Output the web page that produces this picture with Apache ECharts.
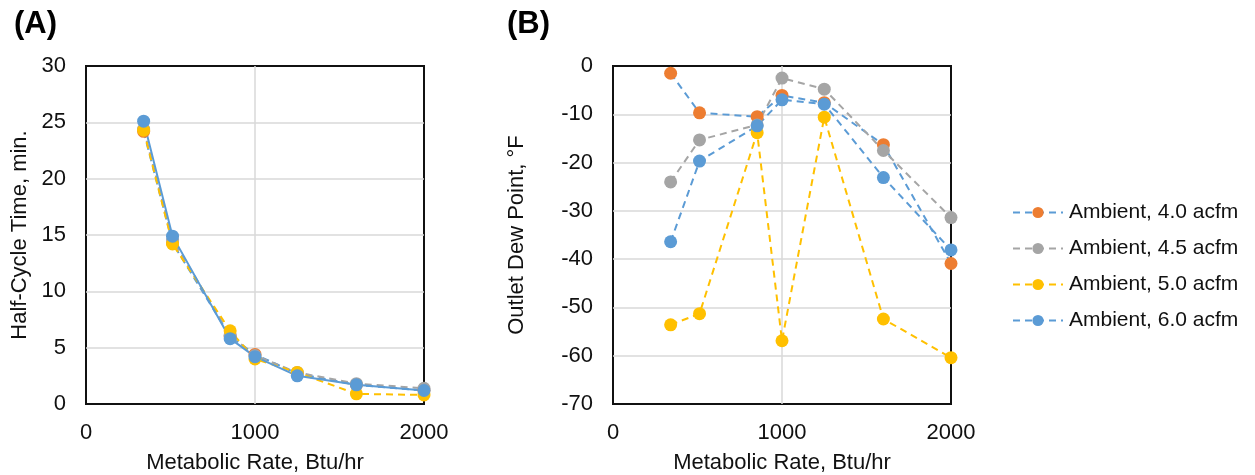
<!DOCTYPE html>
<html>
<head>
<meta charset="utf-8">
<script src="https://cdn.jsdelivr.net/npm/echarts@6/dist/echarts.min.js"></script>
<style>
  html, body { margin: 0; padding: 0; background: #fff; }
  #chart { width: 1255px; height: 475px; }
</style>
</head>
<body>
<div id="chart"></div>
<script>
// Metabolic rate, Btu/hr
const metabolicRate = [341, 512, 853, 1000, 1250, 1600, 2000];

const seriesNames = ['Ambient, 4.0 acfm', 'Ambient, 4.5 acfm', 'Ambient, 5.0 acfm', 'Ambient, 6.0 acfm'];

// (A) Half-cycle time, min.
const halfCycle40 = [24.2, 14.3, 6.0, 4.4, 2.7, 1.7, 1.2];
const halfCycle45 = [24.4, 14.6, 6.1, 4.3, 2.8, 1.8, 1.4];
const halfCycle50 = [24.3, 14.2, 6.5, 4.0, 2.8, 0.9, 0.8];
const halfCycle60 = [25.1, 14.9, 5.8, 4.2, 2.5, 1.7, 1.2];

// (B) Outlet dew point, °F
const dewPoint40 = [-1.5, -9.7, -10.5, -6.1, -7.6, -16.3, -40.9];
const dewPoint45 = [-24.0, -15.3, -12.2, -2.5, -4.8, -17.5, -31.4];
const dewPoint50 = [-53.6, -51.3, -13.8, -56.9, -10.6, -52.4, -60.4];
const dewPoint60 = [-36.4, -19.7, -12.4, -7.0, -7.9, -23.1, -38.1];

const xTicks = [0, 1000, 2000];
const halfCycleTicks = [0, 30, 5];     // min, max, step
const dewPointTicks = [-70, 0, 10];    // min, max, step

const markerColors = ['#ED7D31', '#A5A5A5', '#FFC000', '#5B9BD5'];
const lineColors   = ['#5B9BD5', '#A5A5A5', '#FFC000', '#5B9BD5'];
const dash = [7, 5];
const font = 'Liberation Sans, Arial, sans-serif';
const gridGray = '#d9d9d9';

function pairs(ys) { return metabolicRate.map((x, i) => [x, ys[i]]); }

// Split line colours: the outermost lines are left clear so the black frame shows
function splitColors(count) {
  const c = [];
  for (let i = 0; i < count; i++) c.push(i === 0 || i === count - 1 ? 'rgba(0,0,0,0)' : gridGray);
  return c;
}

function makeSeries(values, axisIndex, solidLast) {
  return values.map((ys, k) => ({
    name: seriesNames[k],
    type: 'line',
    xAxisIndex: axisIndex,
    yAxisIndex: axisIndex,
    data: pairs(ys),
    symbol: 'circle',
    symbolSize: 13,
    itemStyle: { color: markerColors[k] },
    lineStyle: {
      color: lineColors[k],
      width: 2,
      type: (solidLast && k === 3) ? 'solid' : dash
    },
    emphasis: { disabled: true },
    animation: false
  }));
}

function xAxis(gridIndex) {
  return {
    type: 'value', gridIndex,
    min: xTicks[0], max: xTicks[xTicks.length - 1], interval: xTicks[1] - xTicks[0],
    name: 'Metabolic Rate, Btu/hr', nameLocation: 'middle', nameGap: 48,
    nameTextStyle: { fontFamily: font, fontSize: 22, color: '#111' },
    axisLine: { show: false }, axisTick: { show: false },
    axisLabel: { fontFamily: font, fontSize: 22, color: '#111', margin: 18, formatter: v => String(v) },
    splitLine: { show: true, lineStyle: { color: splitColors(xTicks.length), width: 1.5 } }
  };
}

function yAxis(gridIndex, ticks, name, gap) {
  const count = Math.round((ticks[1] - ticks[0]) / ticks[2]) + 1;
  return {
    type: 'value', gridIndex,
    min: ticks[0], max: ticks[1], interval: ticks[2],
    name, nameLocation: 'middle', nameGap: gap,
    nameTextStyle: { fontFamily: font, fontSize: 22, color: '#111' },
    axisLine: { show: false }, axisTick: { show: false },
    axisLabel: { fontFamily: font, fontSize: 22, color: '#111', margin: 20, formatter: v => String(v) },
    splitLine: { show: true, lineStyle: { color: splitColors(count), width: 1.5 } }
  };
}

const gridBase = {
  top: 66, width: 338, height: 338,
  show: true, borderColor: '#111', borderWidth: 2, backgroundColor: 'transparent',
  outerBoundsMode: 'none', containLabel: false
};

const chart = echarts.init(document.getElementById('chart'), null, { renderer: 'canvas' });
chart.setOption({
  backgroundColor: '#fff',
  animation: false,
  title: [
    { text: '(A)', left: 9, top: 4, textStyle: { fontFamily: font, fontSize: 31, fontWeight: 'bold', color: '#000' } },
    { text: '(B)', left: 502, top: 4, textStyle: { fontFamily: font, fontSize: 31, fontWeight: 'bold', color: '#000' } }
  ],
  grid: [
    Object.assign({ left: 86 }, gridBase),
    Object.assign({ left: 613 }, gridBase)
  ],
  xAxis: [xAxis(0), xAxis(1)],
  yAxis: [
    yAxis(0, halfCycleTicks, 'Half-Cycle Time, min.', 55),
    yAxis(1, dewPointTicks, 'Outlet Dew Point, °F', 85)
  ],
  legend: {
    orient: 'vertical',
    left: 1007,
    top: 197,
    itemWidth: 50,
    itemHeight: 14,
    itemGap: 15,
    data: seriesNames,
    selectedMode: false,
    textStyle: { fontFamily: font, fontSize: 21, color: '#111', padding: [0, 0, 0, 1] }
  },
  // Panel B series come first so the legend takes its line styles from them
  series: [
    ...makeSeries([dewPoint40, dewPoint45, dewPoint50, dewPoint60], 1, false),
    ...makeSeries([halfCycle40, halfCycle45, halfCycle50, halfCycle60], 0, true)
  ]
});
</script>
</body>
</html>
